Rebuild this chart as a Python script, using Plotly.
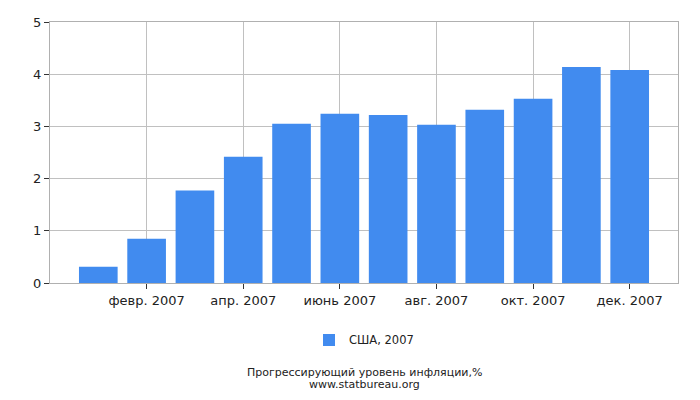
import plotly.graph_objects as go

# месяцы 2007 года (1..12) и прогрессирующий уровень инфляции, %
months = list(range(1, 13))
inflation = [0.31, 0.85, 1.77, 2.42, 3.05, 3.24, 3.22, 3.03, 3.32, 3.53, 4.14, 4.08]
tick_vals = [2, 4, 6, 8, 10, 12]
tick_text = ['февр. 2007', 'апр. 2007', 'июнь 2007', 'авг. 2007', 'окт. 2007', 'дек. 2007']

fig = go.Figure()
fig.add_trace(go.Bar(
    x=months,
    y=inflation,
    width=0.8,
    name='США, 2007',
    marker=dict(color='#418bef', line=dict(width=0)),
))

# страница имеет отступ 8px, поэтому поля немного смещены
fig.update_layout(
    width=700,
    height=400,
    margin=dict(l=42, r=30, t=14, b=125, autoexpand=False),
    plot_bgcolor='white',
    paper_bgcolor='white',
    font=dict(family='DejaVu Sans', size=13, color='#222222'),
    showlegend=True,
    legend=dict(
        orientation='h',
        x=0.5, xanchor='center',
        y=-0.218, yanchor='middle',
        font=dict(size=11.5),
    ),
)

fig.update_xaxes(
    range=[0, 13],
    tickvals=tick_vals,
    ticktext=tick_text,
    showgrid=True,
    gridcolor='#c0c0c0',
    ticks='outside',
    ticklen=5,
    tickcolor='#333333',
    showline=True,
    linecolor='#b0b0b0',
    mirror=True,
    zeroline=False,
    automargin=False,
)
fig.update_yaxes(
    range=[0, 5],
    dtick=1,
    showgrid=True,
    gridcolor='#c0c0c0',
    ticks='outside',
    ticklen=5,
    tickcolor='#333333',
    showline=True,
    linecolor='#b0b0b0',
    mirror=True,
    zeroline=False,
    automargin=False,
)

# подпись внизу графика
fig.add_annotation(
    text='Прогрессирующий уровень инфляции,%',
    xref='paper', yref='paper',
    x=0.5, y=-0.343,
    xanchor='center', yanchor='middle',
    showarrow=False,
    font=dict(size=11, color='#222222'),
)
fig.add_annotation(
    text='www.statbureau.org',
    xref='paper', yref='paper',
    x=0.5, y=-0.387,
    xanchor='center', yanchor='middle',
    showarrow=False,
    font=dict(size=11, color='#222222'),
)

fig.write_html('out.html')
